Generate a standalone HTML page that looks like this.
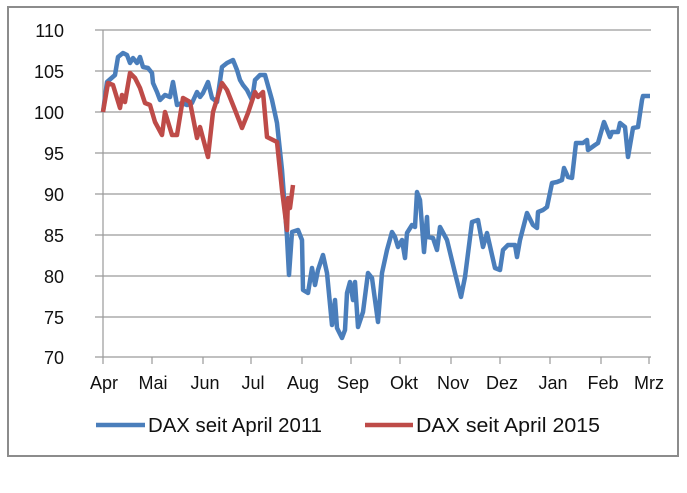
<!DOCTYPE html>
<html><head><meta charset="utf-8"><style>
html,body{margin:0;padding:0;background:#fff;}
svg{display:block;font-family:"Liberation Sans",sans-serif;}
</style></head><body>
<svg width="687" height="493" viewBox="0 0 687 493" xmlns="http://www.w3.org/2000/svg">
<rect x="8" y="7" width="670" height="449" fill="#fff" stroke="#8c8c8c" stroke-width="2"/>
<g stroke="#9a9a9a" stroke-width="1.2">
<line x1="95" y1="30" x2="651" y2="30"/>
<line x1="95" y1="71" x2="651" y2="71"/>
<line x1="95" y1="112" x2="651" y2="112"/>
<line x1="95" y1="153" x2="651" y2="153"/>
<line x1="95" y1="194" x2="651" y2="194"/>
<line x1="95" y1="235" x2="651" y2="235"/>
<line x1="95" y1="276" x2="651" y2="276"/>
<line x1="95" y1="317" x2="651" y2="317"/>
<line x1="95" y1="357" x2="651" y2="357"/>
<line x1="103" y1="30" x2="103" y2="364"/>
<line x1="152" y1="357" x2="152" y2="364"/><line x1="203" y1="357" x2="203" y2="364"/>
<line x1="251" y1="357" x2="251" y2="364"/><line x1="302" y1="357" x2="302" y2="364"/>
<line x1="351" y1="357" x2="351" y2="364"/><line x1="400" y1="357" x2="400" y2="364"/>
<line x1="451" y1="357" x2="451" y2="364"/><line x1="500" y1="357" x2="500" y2="364"/>
<line x1="550" y1="357" x2="550" y2="364"/><line x1="601" y1="357" x2="601" y2="364"/>
<line x1="649" y1="357" x2="649" y2="364"/>
</g>
<g font-size="18" fill="#111" text-anchor="end">
<text x="64" y="37">110</text><text x="64" y="78">105</text><text x="64" y="119">100</text>
<text x="64" y="160">95</text><text x="64" y="201">90</text><text x="64" y="242">85</text>
<text x="64" y="283">80</text><text x="64" y="324">75</text><text x="64" y="364">70</text>
</g>
<g font-size="18" fill="#111" text-anchor="middle">
<text x="104" y="389">Apr</text><text x="153" y="389">Mai</text><text x="205" y="389">Jun</text>
<text x="253" y="389">Jul</text><text x="303" y="389">Aug</text><text x="353" y="389">Sep</text>
<text x="404" y="389">Okt</text><text x="453" y="389">Nov</text><text x="502" y="389">Dez</text>
<text x="553" y="389">Jan</text><text x="603" y="389">Feb</text><text x="649" y="389">Mrz</text>
</g>
<polyline fill="none" stroke="#4a7ebb" stroke-width="4.5" stroke-linejoin="round" points="103,112 107,82 115,75 118,57 123,53 127,55 130,63 133,58 137,63 140,57 143,67 148,68 152,73 153,83 157,92 160,100 165,95 170,97 173,82 177,105 182,103 187,105 192,103 197,92 200,97 203,93 208,82 212,98 217,102 222,67 227,63 233,60 237,70 240,80 243,85 247,90 252,100 255,80 260,75 265,75 272,100 277,123 282,170 287,237 289,275 292,232 298,230 302,240 303,290 308,293 312,268 315,285 318,270 323,255 327,273 332,325 335,300 337,328 342,338 345,330 347,293 350,282 353,300 355,282 358,327 363,312 368,273 372,278 378,322 382,273 387,250 392,232 395,237 398,247 402,240 405,258 407,233 412,225 415,227 417,192 420,200 424,252 427,217 428,237 433,238 437,250 440,227 447,240 455,273 461,297 465,277 472,222 478,220 483,247 487,233 492,255 495,268 500,270 503,250 508,245 515,245 517,257 520,240 527,213 533,225 537,228 538,212 543,210 547,207 552,183 557,182 562,180 564,168 568,177 572,178 576,143 583,143 587,140 588,150 595,145 598,143 604,122 610,137 612,132 618,132 620,123 625,127 628,157 633,128 638,127 642,100 643,96 650,96"/>
<polyline fill="none" stroke="#be4b48" stroke-width="4.5" stroke-linejoin="round" points="103,112 108,83 113,85 120,108 122,95 125,102 130,73 135,78 140,88 145,103 150,105 155,122 162,135 165,112 172,135 177,135 183,98 190,102 197,138 200,127 208,157 213,112 222,83 227,90 235,110 242,128 248,113 255,92 258,97 263,92 267,137 277,142 282,190 287,230 288,198 290,208 293,185"/>
<line x1="96" y1="425" x2="145" y2="425" stroke="#4a7ebb" stroke-width="4.5"/>
<line x1="365" y1="425" x2="413" y2="425" stroke="#be4b48" stroke-width="4.5"/>
<g font-size="20" fill="#111">
<text x="148" y="432" textLength="174" lengthAdjust="spacingAndGlyphs">DAX seit April 2011</text>
<text x="416" y="432" textLength="184" lengthAdjust="spacingAndGlyphs">DAX seit  April 2015</text>
</g>
</svg>
</body></html>
